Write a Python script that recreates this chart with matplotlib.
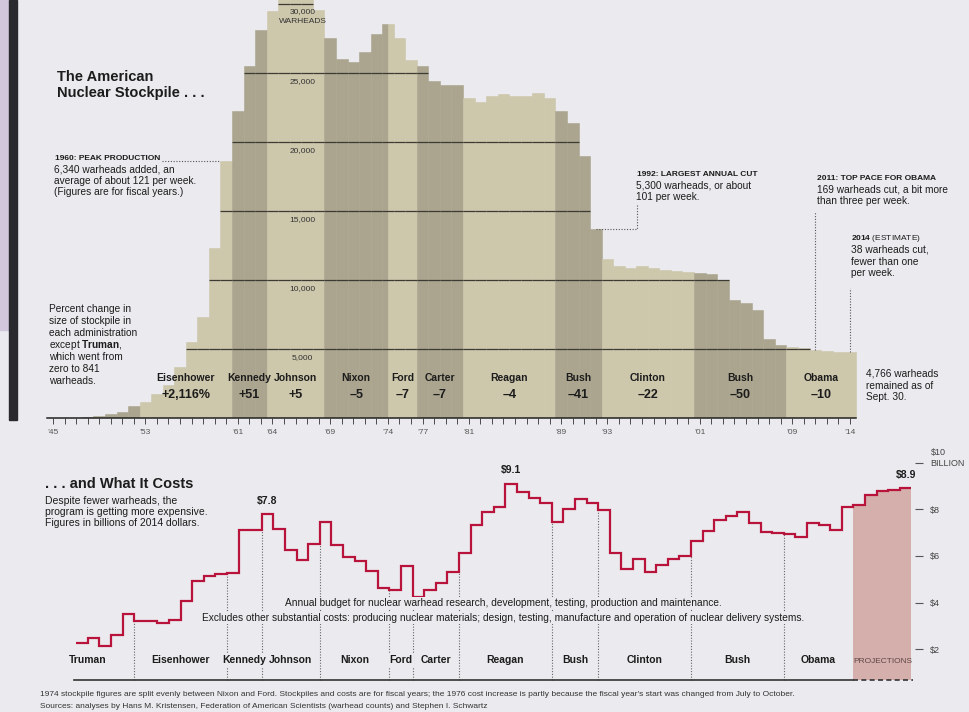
import numpy as np
import matplotlib.pyplot as plt
from matplotlib.patches import Rectangle

plt.rcParams['font.family'] = ['Liberation Sans', 'DejaVu Sans']
plt.rcParams['mathtext.fontset'] = 'custom'
plt.rcParams['mathtext.rm'] = 'Liberation Sans'
plt.rcParams['mathtext.bf'] = 'Liberation Sans:bold'

W, H = 969, 712
PAPER = '#ebeaee'
LIGHT = '#cdc7ac'
DARK = '#aba58f'
RED = '#b8133a'
INK = '#1c1c1c'

# stockpile (warheads, fiscal years)
years = list(range(1945, 2015))
warheads = [2, 9, 13, 50, 170, 299, 438, 841, 1169, 1703,
            2422, 3692, 5543, 7345, 12298, 18638, 22229, 25540, 28133, 29463,
            31139, 31175, 31255, 29561, 27552, 26008, 25830, 26516, 27835, 28537,
            27519, 25914, 25542, 24418, 24138, 24104, 23208, 22886, 23305, 23459,
            23368, 23317, 23575, 23205, 22217, 21392, 19008, 13708, 11511, 10979,
            10904, 11011, 10903, 10732, 10685, 10577, 10526, 10457, 10027, 8570,
            8360, 7853, 5709, 5273, 5113, 5066, 4897, 4881, 4804, 4766]

# budget, billions of 2014 dollars (2015-2019 projections)
budget_years = list(range(1948, 2020))
budget = [2.27, 2.47, 2.13, 2.62, 3.49,
          3.21, 3.22, 3.12, 3.25, 4.08, 4.92, 5.15, 5.21,
          5.25, 7.11, 7.12,
          7.8, 7.17, 6.24, 5.82, 6.52,
          7.47, 6.45, 5.97, 5.80, 5.34, 4.62,
          4.55, 5.57,
          4.24, 4.52, 4.82, 5.31,
          6.14, 7.31, 7.89, 8.09, 9.1, 8.75, 8.47, 8.25,
          7.47, 8.03, 8.43, 8.26,
          7.96, 6.12, 5.45, 5.88, 5.30, 5.63, 5.85, 5.99,
          6.64, 7.05, 7.56, 7.69, 7.87, 7.43, 7.02, 6.99,
          6.93, 6.80, 7.39, 7.33, 7.13, 8.09,
          8.18, 8.62, 8.78, 8.82, 8.9]

admins = ['Truman', 'Eisenhower', 'Kennedy', 'Johnson', 'Nixon', 'Ford', 'Carter',
          'Reagan', 'Bush', 'Clinton', 'Bush', 'Obama']
pct = ['', '+2,116%', '+51', '+5', '–5', '–7', '–7', '–4', '–41', '–22', '–50', '–10']
# 1974 stockpile split between Nixon and Ford
stock_edges = [1944.5, 1952.5, 1960.5, 1963.5, 1968.5, 1974.0, 1976.5, 1980.5,
               1988.5, 1992.5, 2000.5, 2008.5, 2014.5]
cost_edges = [1944.5, 1952.5, 1960.5, 1963.5, 1968.5, 1974.5, 1976.5, 1980.5,
              1988.5, 1992.5, 2000.5, 2008.5, 2014.5]
tick_years = [1945, 1953, 1961, 1964, 1969, 1974, 1977, 1981, 1989, 1993, 2001, 2009, 2014]
grid_levels = [5000, 10000, 15000, 20000, 25000, 30000]


def fx(x):
    return x / W


def fy(y):
    return 1 - y / H


fig = plt.figure(figsize=(W / 100, H / 100), dpi=100)
fig.patch.set_facecolor(PAPER)

# scan edge on the left
fig.patches.append(Rectangle((0, fy(330)), fx(9), 330 / H, transform=fig.transFigure,
                             color='#d2c6dd', zorder=0))
fig.patches.append(Rectangle((fx(9), fy(420)), fx(8), 420 / H, transform=fig.transFigure,
                             color='#2a2a2e', zorder=0))

# ---------------- top: stockpile ----------------
ax = fig.add_axes([fx(40), fy(418), (930 - 40) / W, 418 / H])
ax.set_xlim(1945 + (40 - 53) / 11.55, 1945 + (930 - 53) / 11.55)
ax.set_ylim(0, 418 / 69 * 5000)
ax.set_facecolor('none')
for s in ax.spines.values():
    s.set_visible(False)

for i, name in enumerate(admins):
    lo, hi = stock_edges[i], stock_edges[i + 1]
    c = DARK if i % 2 == 0 else LIGHT
    lefts, widths, heights = [], [], []
    for y, v in zip(years, warheads):
        l, r = max(y - 0.5, lo), min(y + 0.5, hi)
        if r > l:
            lefts.append(l)
            widths.append(r - l)
            heights.append(v)
    ax.bar(lefts, heights, width=widths, align='edge', color=c, edgecolor=c, lw=0.4, zorder=1)
    if pct[i]:
        cx = (lo + hi) / 2
        ax.text(cx, 2900, name, ha='center', va='center', fontsize=7.5,
                fontweight='bold', color=INK, zorder=4)
        ax.text(cx, 1650, pct[i], ha='center', va='center', fontsize=9,
                fontweight='bold', color=INK, zorder=4)

# gridlines only inside the bars
for lvl in grid_levels:
    xs = [y for y, v in zip(years, warheads) if v > lvl]
    ax.hlines([lvl] * len(xs), [x - 0.5 for x in xs], [x + 0.5 for x in xs],
              color='#3b3a33', lw=0.9, zorder=2)
    if lvl < 30000:
        ax.text(1966.6, lvl - 620, f'{lvl:,}', ha='center', va='center',
                fontsize=6, color='#333333', zorder=3)
ax.text(1966.6, 29420, '30,000', ha='center', va='center', fontsize=6, color='#333333', zorder=3)
ax.text(1966.6, 28700, 'WARHEADS', ha='center', va='center', fontsize=6, color='#333333', zorder=3)

ax.plot([1944.5, 2014.5], [0, 0], color='#222222', lw=1.1, zorder=3, clip_on=False)
ax.set_xticks(range(1945, 2015), minor=True)
ax.set_xticks(tick_years)
ax.set_xticklabels(['’' + str(y)[2:] for y in tick_years])
ax.tick_params(axis='x', which='both', direction='out', length=4, width=0.6,
               color='#333333', labelsize=6, labelcolor='#555555', pad=4)
ax.set_yticks([])

dot = (0, (1, 1.5))
# leader lines
ax.plot([1954.4, 1959.5], [18638, 18638], ls=dot, color='#555555', lw=0.8)
ax.plot([1992, 1995.6, 1995.6], [13708, 13708, 15500], ls=dot, color='#555555', lw=0.8)
ax.plot([2011, 2011], [4897, 14900], ls=dot, color='#555555', lw=0.8)
ax.plot([2014, 2014], [4766, 9400], ls=dot, color='#555555', lw=0.8)

# annotations, top
fig.text(fx(57), fy(70), 'The American\nNuclear Stockpile . . .', ha='left', va='top',
         fontsize=10.5, fontweight='bold', color=INK, linespacing=1.15)
fig.text(fx(55), fy(158), '1960: PEAK PRODUCTION', ha='left', va='center',
         fontsize=6, fontweight='bold', color=INK)
fig.text(fx(54), fy(164), '6,340 warheads added, an\naverage of about 121 per week.\n'
         '(Figures are for fiscal years.)', ha='left', va='top', fontsize=7.3, color=INK)

pc_lines = ['Percent change in', 'size of stockpile in', 'each administration',
            r'except $\mathbf{Truman}$,', 'which went from', 'zero to 841', 'warheads.']
for k, line in enumerate(pc_lines):
    fig.text(fx(49), fy(309 + 12 * k), line, ha='left', va='center', fontsize=7.3, color=INK)

fig.text(fx(637), fy(174), '1992: LARGEST ANNUAL CUT', ha='left', va='center',
         fontsize=6, fontweight='bold', color=INK)
fig.text(fx(636), fy(180), '5,300 warheads, or about\n101 per week.', ha='left', va='top',
         fontsize=7.3, color=INK)
fig.text(fx(817), fy(178), '2011: TOP PACE FOR OBAMA', ha='left', va='center',
         fontsize=6, fontweight='bold', color=INK)
fig.text(fx(817), fy(184), '169 warheads cut, a bit more\nthan three per week.', ha='left',
         va='top', fontsize=7.3, color=INK)
fig.text(fx(851), fy(239), r'$\mathbf{2014}$ (ESTIMATE)', ha='left', va='center',
         fontsize=6, color=INK)
fig.text(fx(851), fy(245), '38 warheads cut,\nfewer than one\nper week.', ha='left', va='top',
         fontsize=7.3, color=INK)
fig.text(fx(866), fy(369), '4,766 warheads\nremained as of\nSept. 30.', ha='left', va='top',
         fontsize=7.3, color=INK)

# ---------------- bottom: budget ----------------
bx = fig.add_axes([fx(40), fy(700), (915 - 40) / W, 260 / H])
bx.set_xlim(1953 + (40 - 140) / 11.6, 1953 + (915 - 140) / 11.6)
bx.set_ylim(-0.18, 10.97)
bx.set_facecolor('none')
for s in bx.spines.values():
    s.set_visible(False)

BASE = 0.68
edges = np.append(np.array(budget_years) - 0.5, budget_years[-1] + 0.5)
bx.stairs(budget[-5:], edges[-6:], baseline=BASE, fill=True, color='#d5afab', zorder=0)
bx.stairs(budget, edges, baseline=None, color=RED, lw=1.6, zorder=4)
bx.plot([1947.3, 2014.5], [BASE, BASE], color='#333333', lw=1.2, zorder=3)
bx.plot([2014.5, 2019.6], [BASE, BASE], color='#333333', lw=1.2, ls=(0, (3, 2)), zorder=3)

for e in cost_edges[1:-1]:
    k = budget_years.index(int(e + 0.5))
    top = min(budget[k - 1], budget[k])
    bx.plot([e, e], [BASE, top], ls=dot, color='#666666', lw=0.8, zorder=1)

box = dict(facecolor=PAPER, edgecolor='none', pad=1.2)
for i, name in enumerate(admins):
    cx = (cost_edges[i] + cost_edges[i + 1]) / 2
    bx.text(cx, 1.54, name, ha='center', va='center', fontsize=7.5, fontweight='bold',
            color=INK, bbox=box, zorder=5)
bx.text(2017, 1.45, 'PROJECTIONS', ha='center', va='center', fontsize=6, color='#5e4644', zorder=5)

for yr, val in [(1964, 7.8), (1985, 9.1), (2019, 8.9)]:
    bx.annotate(f'${val}', (yr, val), xytext=(0, 6), textcoords='offset points',
                ha='center', va='bottom', fontsize=7.5, fontweight='bold', color=INK)

bx.set_xticks([])
bx.yaxis.tick_right()
bx.set_yticks([2, 4, 6, 8, 10])
bx.set_yticklabels(['$2', '$4', '$6', '$8', 'BILLION'])
bx.tick_params(axis='y', direction='out', length=6, width=0.8, color='#555555',
               labelsize=6.5, labelcolor='#444444', pad=5)
fig.text(fx(931), fy(453), '$10', ha='left', va='center', fontsize=6.5, color='#444444')

fig.text(fx(45), fy(477), '. . . and What It Costs', ha='left', va='top', fontsize=10.5,
         fontweight='bold', color=INK)
fig.text(fx(45), fy(496), 'Despite fewer warheads, the\nprogram is getting more expensive.\n'
         'Figures in billions of 2014 dollars.', ha='left', va='top', fontsize=7.5,
         color=INK, linespacing=1.15)

note_box = dict(facecolor=PAPER, edgecolor='none', pad=1.0)
fig.text(fx(503), fy(603), 'Annual budget for nuclear warhead research, development, testing, '
         'production and maintenance.', ha='center', va='center', fontsize=7.3, color=INK,
         bbox=note_box, zorder=6)
fig.text(fx(503), fy(618), 'Excludes other substantial costs: producing nuclear materials; '
         'design, testing, manufacture and operation of nuclear delivery systems.',
         ha='center', va='center', fontsize=7.3, color=INK, bbox=note_box, zorder=6)

fig.text(fx(40), fy(694), '1974 stockpile figures are split evenly between Nixon and Ford. '
         'Stockpiles and costs are for fiscal years; the 1976 cost increase is partly because '
         "the fiscal year's start was changed from July to October.",
         ha='left', va='center', fontsize=6, color='#333333')
fig.text(fx(40), fy(707), 'Sources: analyses by Hans M. Kristensen, Federation of American '
         'Scientists (warhead counts) and Stephen I. Schwartz',
         ha='left', va='center', fontsize=6, color='#333333')

fig.savefig('out.png', dpi=100, facecolor=PAPER)
